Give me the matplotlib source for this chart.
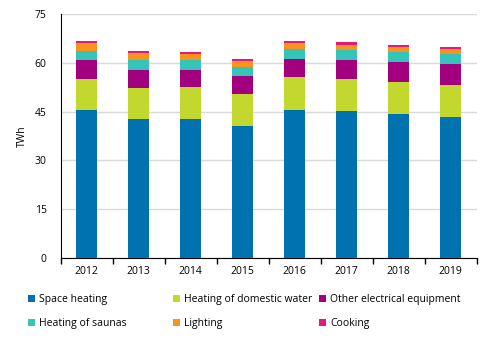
import numpy as np
import matplotlib
matplotlib.use('Agg')
import matplotlib.pyplot as plt
from matplotlib.patches import Patch

plt.rcParams['font.family'] = ['Open Sans', 'DejaVu Sans']

# data
years = ['2012', '2013', '2014', '2015', '2016', '2017', '2018', '2019']
space_heating = [45.5, 42.8, 42.8, 40.6, 45.5, 45.2, 44.3, 43.4]
domestic_water = [9.6, 9.5, 9.8, 9.9, 10.2, 9.9, 9.9, 9.8]
other_electrical = [5.8, 5.6, 5.3, 5.5, 5.5, 5.8, 6.1, 6.5]
saunas = [2.8, 3.0, 3.0, 2.8, 3.1, 3.1, 3.1, 3.1]
lighting = [2.5, 2.2, 1.9, 1.8, 1.9, 1.6, 1.5, 1.5]
cooking = [0.6, 0.6, 0.6, 0.6, 0.6, 0.9, 0.7, 0.6]

series = [space_heating, domestic_water, other_electrical, saunas, lighting, cooking]
labels = ['Space heating', 'Heating of domestic water', 'Other electrical equipment',
          'Heating of saunas', 'Lighting', 'Cooking']
colors = ['#0072B0', '#C2D82E', '#A2007E', '#35C4B9', '#F7941D', '#E5197A']

fig = plt.figure(figsize=(4.91, 3.40), dpi=100)
ax = fig.add_axes([60.5/491, 1-258/340, 416/491, 244/340])

x = np.arange(len(years))
bottom = np.zeros(len(years))
for vals, lab, col in zip(series, labels, colors):
    ax.bar(x, vals, 0.4, bottom=bottom, color=col, label=lab, zorder=3)
    bottom += np.array(vals)

ax.set_xlim(-0.5, len(years) - 0.5)
ax.set_ylim(0, 75)
ax.set_yticks(np.arange(0, 76, 15))
ax.yaxis.grid(True, color='#D9D9D9', linewidth=1, zorder=0)
ax.tick_params(axis='y', length=0, labelsize=7.5, pad=10)
ax.set_xticks(x)
ax.set_xticklabels(years)
ax.set_xticks(np.arange(-0.5, len(years), 1), minor=True)
ax.tick_params(axis='x', which='major', length=0, labelsize=7.5, pad=6)
ax.tick_params(axis='x', which='minor', length=4, width=1, color='black')
for s in ['top', 'right']:
    ax.spines[s].set_visible(False)
ax.spines['left'].set_color('black')
ax.spines['bottom'].set_color('black')
ax.set_ylabel('TWh', fontsize=7.5, labelpad=5)

# legend, three columns placed separately
handles = [Patch(facecolor=c) for c in colors]
col_x = [28, 173, 319]
for i, cx in enumerate(col_x):
    leg = fig.legend([handles[i], handles[i + 3]], [labels[i], labels[i + 3]],
                     loc='upper left', bbox_to_anchor=(cx/491, 1-294/340),
                     frameon=False, fontsize=7.5, handlelength=0.7, handleheight=0.7,
                     handletextpad=0.35, labelspacing=1.25, borderaxespad=0, borderpad=0)

fig.savefig('out.png', dpi=100)
